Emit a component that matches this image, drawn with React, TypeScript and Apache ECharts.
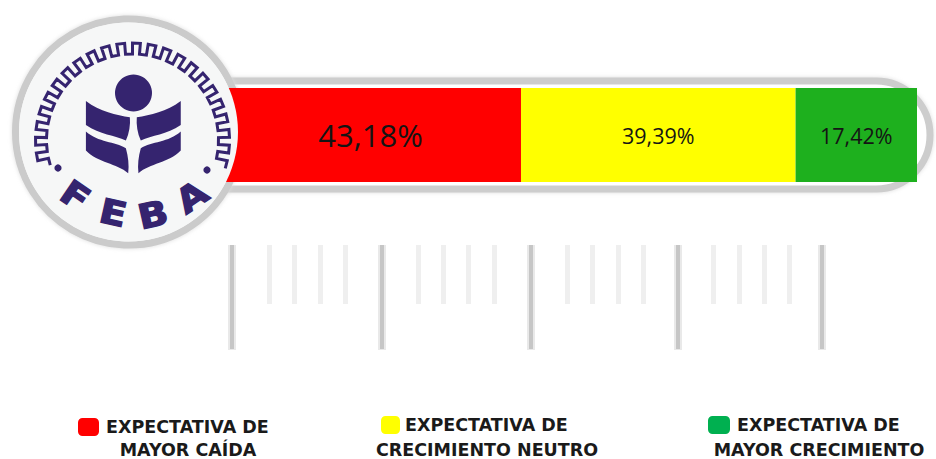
import React, { useEffect, useRef } from "react";
import * as echarts from "echarts";

const seriesNames = ["EXPECTATIVA DE\nMAYOR CAÍDA", "EXPECTATIVA DE\nCRECIMIENTO NEUTRO", "EXPECTATIVA DE\nMAYOR CRECIMIENTO"];
const seriesValues = [43.18, 39.39, 17.42];
const barColors = ["#ff0000", "#ffff00", "#1eb01e"];
const legendColors = ["#ff0000", "#ffff00", "#00b050"];
const labelSizes = [31, 21.5, 21.5];
const majorTicks = [0, 25.3, 50.6, 75.5, 100];
const minorTicks = [6.3, 10.6, 14.9, 19.2, 31.5, 35.8, 40.1, 44.4, 56.8, 61.1, 65.4, 69.7, 81.6, 85.9, 90.2, 94.5];
const legendLayout = [
  { left: 78, top: 418, w: 21, h: 18, gap: 2, sub: 188 },
  { left: 381, top: 416, w: 19, h: 18, gap: 0, sub: 487 },
  { left: 708, top: 416, w: 22, h: 18, gap: 2, sub: 819 },
];

const NAVY = "#35246f";
const LABEL_FONT = "'Open Sans', 'Noto Sans', sans-serif";
const LEGEND_FONT = "'DejaVu Sans', sans-serif";

const upperLeaf = "M258 303 C300 335 350 345 390 352 C392 375 388 400 378 422 C345 405 300 405 258 375 Z";
const lowerLeaf = "M258 395 C295 428 345 425 378 445 C385 470 388 495 385 520 C350 490 295 490 258 452 Z";
echarts.graphic.registerShape("febaUpperLeaf", echarts.graphic.extendPath(upperLeaf, {}));
echarts.graphic.registerShape("febaLowerLeaf", echarts.graphic.extendPath(lowerLeaf, {}));

function gearPoints(cx: number, cy: number, rOut: number, rIn: number, from: number, to: number, teeth: number) {
  const pts: number[][] = [];
  const step = (to - from) / teeth;
  for (let i = 0; i < teeth; i++) {
    const a0 = from + step * i;
    const fr = [0, 0.5, 0.5, 1];
    const rs = [rIn, rIn, rOut, rOut];
    fr.forEach((f, k) => {
      const a = ((a0 + step * f) * Math.PI) / 180;
      pts.push([cx + rs[k] * Math.cos(a), cy - rs[k] * Math.sin(a)]);
    });
  }
  return pts;
}

const leaf = (type: string, mirror: boolean) => ({
  type,
  x: mirror ? 800 / 3 : 0,
  y: 0,
  scaleX: mirror ? -1 / 3 : 1 / 3,
  scaleY: 1 / 3,
  z: 12,
  style: { fill: NAVY },
});

const letter = (text: string, x: number, y: number, rotation: number) => ({
  type: "text",
  x,
  y,
  rotation,
  scaleX: 1.15,
  z: 12,
  style: { text, fill: NAVY, stroke: NAVY, lineWidth: 1.4, font: "900 34px 'DejaVu Sans', sans-serif", align: "center", verticalAlign: "middle" },
});

const tickGrid = { left: 232, top: 245, width: 590, height: 110 };

const tickAxis = (gridIndex: number, customValues: number[], length: number, color: string, width: number) => ({
  type: "value",
  gridIndex,
  position: "top",
  min: 0,
  max: 100,
  axisLine: { show: false, onZero: false },
  splitLine: { show: false },
  axisLabel: { show: false },
  axisTick: { show: true, inside: true, length, customValues, lineStyle: { color, width } },
});

export default function App() {
  const ref = useRef<HTMLDivElement>(null);
  useEffect(() => {
    document.body.style.margin = "0";
    const chart = echarts.init(ref.current!, null, { renderer: "svg" });
    chart.setOption({
      animation: false,
      backgroundColor: "#ffffff",
      grid: [
        { left: 220, top: 88, width: 697, height: 94 },
        tickGrid,
        tickGrid,
        tickGrid,
      ],
      xAxis: [
        { type: "value", gridIndex: 0, min: 0, max: 99.99, show: false },
        tickAxis(1, majorTicks, 105, "#e9e9e9", 8),
        tickAxis(2, majorTicks, 104, "#c6c6c6", 4),
        tickAxis(3, minorTicks, 59, "#efefef", 5),
      ],
      yAxis: [
        { type: "category", gridIndex: 0, data: ["FEBA"], show: false },
        { type: "value", gridIndex: 1, show: false },
        { type: "value", gridIndex: 2, show: false },
        { type: "value", gridIndex: 3, show: false },
      ],
      legend: seriesNames.map((name, i) => ({
        left: legendLayout[i].left,
        top: legendLayout[i].top,
        padding: 0,
        itemGap: 0,
        itemWidth: legendLayout[i].w,
        itemHeight: legendLayout[i].h,
        icon: "roundRect",
        selectedMode: false,
        data: [{ name, itemStyle: { color: legendColors[i] } }],
        formatter: (n: string) => n.split("\n")[0],
        textStyle: { fontFamily: LEGEND_FONT, fontWeight: "bold", fontSize: 17.5, color: "#1a1a1a", padding: [0, 0, 0, legendLayout[i].gap] },
      })),
      series: seriesNames.map((name, i) => ({
        name,
        type: "bar",
        stack: "total",
        xAxisIndex: 0,
        yAxisIndex: 0,
        barWidth: "100%",
        itemStyle: { color: barColors[i] },
        data: [seriesValues[i]],
        label: {
          show: true,
          position: "inside",
          formatter: (p: any) => p.value.toFixed(2).replace(".", ",") + "%",
          fontFamily: LABEL_FONT,
          fontSize: labelSizes[i],
          color: "#141414",
        },
      })),
      graphic: [
        {
          type: "rect", z: 0, shape: { x: 130, y: 81, width: 800, height: 108, r: 54 },
          style: { fill: "#ffffff", stroke: "#cdcdcd", lineWidth: 7, shadowBlur: 4, shadowColor: "#dddddd" },
        },
        {
          type: "circle", z: 1, shape: { cx: 128.5, cy: 132, r: 113 },
          style: { fill: "#f6f7f7", stroke: "#cbcbcb", lineWidth: 7, shadowBlur: 4, shadowColor: "#dddddd" },
        },
        { type: "circle", z: 11, shape: { cx: 128.5, cy: 132, r: 109.5 }, style: { fill: "#f6f7f7" } },
        {
          type: "polyline", z: 12,
          shape: { points: gearPoints(132.5, 140, 97, 86, 197, -17, 23) },
          style: { fill: "none", stroke: NAVY, lineWidth: 3 },
        },
        { type: "circle", z: 12, shape: { cx: 133.5, cy: 93, r: 18.5 }, style: { fill: NAVY } },
        leaf("febaUpperLeaf", false),
        leaf("febaUpperLeaf", true),
        leaf("febaLowerLeaf", false),
        leaf("febaLowerLeaf", true),
        { type: "circle", z: 12, shape: { cx: 58, cy: 168, r: 3.6 }, style: { fill: NAVY } },
        { type: "circle", z: 12, shape: { cx: 207, cy: 170, r: 3.6 }, style: { fill: NAVY } },
        letter("F", 75, 196, -0.6),
        letter("E", 113, 213, -0.22),
        letter("B", 153, 215, 0.22),
        letter("A", 192, 197, 0.6),
        ...seriesNames.map((name, i) => ({
          type: "text", z: 5, x: legendLayout[i].sub, y: 450,
          style: {
            text: name.split("\n")[1], fill: "#1a1a1a",
            font: `bold 17.5px ${LEGEND_FONT}`, align: "center", verticalAlign: "middle",
          },
        })),
      ],
    });
    return () => chart.dispose();
  }, []);
  return <div ref={ref} style={{ width: 936, height: 459 }} />;
}
